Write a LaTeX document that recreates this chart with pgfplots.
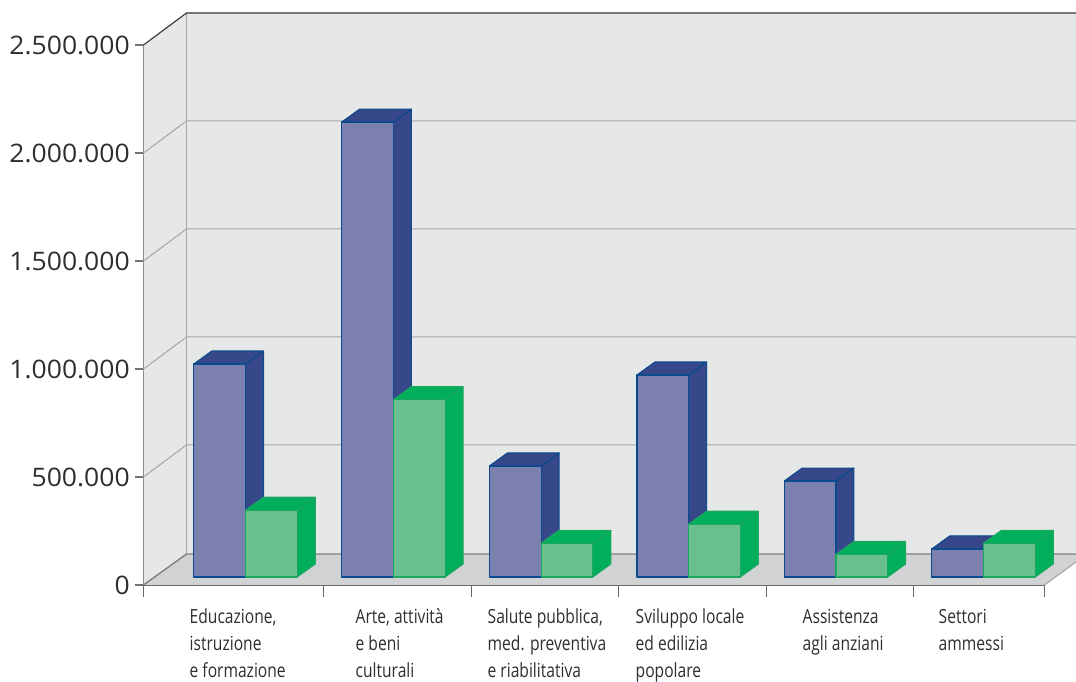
\documentclass[border=0pt]{standalone}
\usepackage{fontspec}
\usepackage{pgfplots}
\pgfplotsset{compat=1.18}
\setmainfont[FakeStretch=1.04]{Open Sans}
\newfontfamily\catfont[FakeStretch=0.8]{Open Sans}

\definecolor{wallgrey}{HTML}{E6E8E8}
\definecolor{floorgrey}{HTML}{D1D2D4}
\definecolor{gridgrey}{HTML}{A4A5A5}
\definecolor{inktext}{HTML}{2E2E30}
\definecolor{bluefront}{HTML}{7B80AF}
\definecolor{blueside}{HTML}{36488A}
\definecolor{blueedge}{HTML}{0B4A8E}
\definecolor{greenfront}{HTML}{69C08E}
\definecolor{greenside}{HTML}{00AE5B}
\definecolor{greenedge}{HTML}{1CA860}

% Prism standing on the floor: #1 left edge, #2 value, #3 front, #4 side/top, #5 edge colour.
\newcommand{\solidbar}[5]{%
  \pgfmathsetmacro{\xa}{#1}%
  \pgfmathsetmacro{\xb}{#1+51.7}%
  \pgfmathsetmacro{\xc}{#1+51.7+18}%
  \pgfmathsetmacro{\xd}{#1+18}%
  \edef\yb{\the\numexpr 37037\relax}%
  \edef\yt{\the\numexpr 37037+#2\relax}%
  \edef\ybb{\the\numexpr 37037+60185\relax}%
  \edef\ytb{\the\numexpr 37037+#2+60185\relax}%
  \edef\drawprism{%
    \noexpand\addplot[draw=#5, fill=#4, line width=1.1pt, line join=round] coordinates
      {(\xb,\yb) (\xc,\ybb) (\xc,\ytb) (\xb,\yt)} -- cycle;
    \noexpand\addplot[draw=#5, fill=#4, line width=1.1pt, line join=round] coordinates
      {(\xa,\yt) (\xd,\ytb) (\xc,\ytb) (\xb,\yt)} -- cycle;
    \noexpand\addplot[draw=#5, fill=#3, line width=1.2pt, line join=round] coordinates
      {(\xa,\yb) (\xb,\yb) (\xb,\yt) (\xa,\yt)} -- cycle;
  }%
  \drawprism
}

\begin{document}
\begin{tikzpicture}[x=1pt,y=1pt]
\path[use as bounding box] (0,0) rectangle (1076,682);
\begin{axis}[
  at={(143.5pt,97pt)}, anchor=south west,
  scale only axis, width=901pt, height=540pt,
  xmin=143, xmax=1044, ymin=0, ymax=2500000,
  clip=false,
  axis lines=left,
  axis line style={-},
  x axis line style={draw=gray!85!black, line width=1.6pt},
  y axis line style={draw=black!65, line width=1.3pt},
  tick align=outside,
  ytick={0,500000,1000000,1500000,2000000,2500000},
  ytick style={draw=black!55, line width=1.1pt, /pgfplots/major tick length=9pt},
  scaled y ticks=false,
  yticklabel style={
    /pgf/number format/assume math mode=true,
    /pgf/number format/1000 sep={.},
    /pgf/number format/fixed,
    font=\fontsize{25.5}{30}\selectfont, text=inktext, xshift=-6pt, yshift=-0.8pt},
  xtick={189,355,487,635,802,938},
  xticklabels={{Educazione,\\istruzione\\e formazione},
               {Arte, attività\\e beni\\culturali},
               {Salute pubblica,\\med. preventiva\\e riabilitativa},
               {Sviluppo locale\\ed edilizia\\popolare},
               {Assistenza\\agli anziani},
               {Settori\\ammessi}},
  xticklabel style={anchor=north west, align=left, text=inktext,
    font=\catfont\fontsize{19.5}{27}\selectfont, inner xsep=0pt, yshift=-16pt},
  xtick style={/pgfplots/major tick length=0pt},
  extra x ticks={143,323,471,618,766,913,1044},
  extra x tick labels={},
  extra x tick style={
    xticklabels={},
    xtick style={draw=black!60, line width=1.1pt, /pgfplots/major tick length=12pt}},
]
  % Back wall and side wall
  \addplot[draw=none, fill=wallgrey] coordinates
    {(143,0) (186,143519) (1075.5,143519) (1075.5,2648148) (186,2648148) (143,2500000)} -- cycle;
  % Floor
  \addplot[draw=none, fill=floorgrey] coordinates
    {(143,0) (1044,0) (1075.5,106481) (1075.5,143519) (186,143519)} -- cycle;

  % Gridlines: slanted on the side wall, level on the back wall
  \addplot[draw=gridgrey, line width=1pt] coordinates {(143,500000) (186,648148) (1075.5,648148)};
  \addplot[draw=gridgrey, line width=1pt] coordinates {(143,1000000) (186,1148148) (1075.5,1148148)};
  \addplot[draw=gridgrey, line width=1pt] coordinates {(143,1500000) (186,1648148) (1075.5,1648148)};
  \addplot[draw=gridgrey, line width=1pt] coordinates {(143,2000000) (186,2148148) (1075.5,2148148)};
  \addplot[draw=gridgrey, line width=1.2pt] coordinates {(186,143519) (186,2648148)};
  \addplot[draw=gray, line width=1.4pt] coordinates {(143,0) (186,143519) (1075.5,143519)};
  \addplot[draw=gridgrey, line width=1.1pt] coordinates {(1044,0) (1075.5,106481)};
  \addplot[draw=black!80, line width=1.1pt] coordinates {(143,2500000) (186,2648148) (1075.5,2648148)};

  % Paired prisms, from left to right
  \solidbar{193.3}{986000}{bluefront}{blueside}{blueedge}
  \solidbar{245.0}{309000}{greenfront}{greenside}{greenedge}
  \solidbar{341.2}{2106000}{bluefront}{blueside}{blueedge}
  \solidbar{392.9}{821000}{greenfront}{greenside}{greenedge}
  \solidbar{488.9}{514000}{bluefront}{blueside}{blueedge}
  \solidbar{540.6}{156000}{greenfront}{greenside}{greenedge}
  \solidbar{636.4}{935000}{bluefront}{blueside}{blueedge}
  \solidbar{688.1}{244000}{greenfront}{greenside}{greenedge}
  \solidbar{783.7}{444000}{bluefront}{blueside}{blueedge}
  \solidbar{835.4}{104000}{greenfront}{greenside}{greenedge}
  \solidbar{931.3}{130000}{bluefront}{blueside}{blueedge}
  \solidbar{983.0}{156000}{greenfront}{greenside}{greenedge}
\end{axis}
\end{tikzpicture}
\end{document}
